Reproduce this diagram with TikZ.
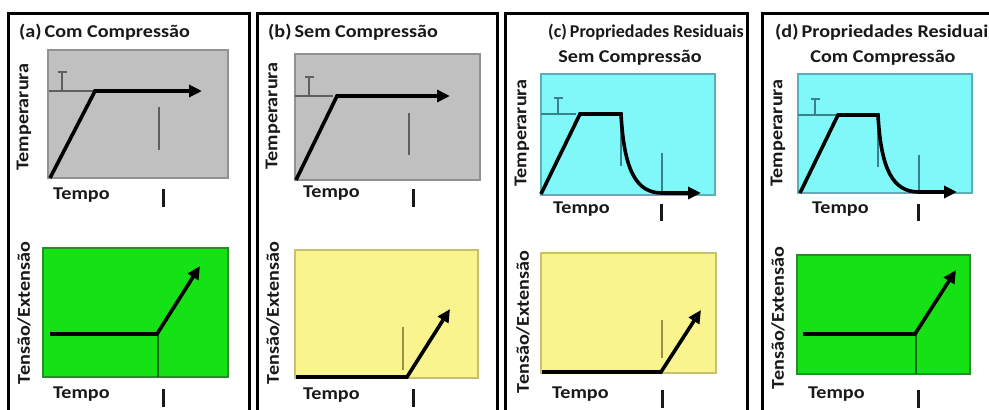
\documentclass[tikz,border=0pt]{standalone}
\usepackage{fontspec}
\newfontfamily\fs[FakeStretch=1.12]{Carlito}
\newfontfamily\fp{Carlito}
\usetikzlibrary{arrows.meta}
\definecolor{boxgray}{RGB}{192,192,192}
\definecolor{edgegray}{RGB}{145,145,145}
\definecolor{thingray}{RGB}{95,95,95}
\definecolor{boxgreen}{RGB}{20,226,20}
\definecolor{edgegreen}{RGB}{40,140,40}
\definecolor{thingreen}{RGB}{20,100,20}
\definecolor{boxyellow}{RGB}{250,244,142}
\definecolor{edgeyellow}{RGB}{200,192,110}
\definecolor{thinyellow}{RGB}{150,145,70}
\definecolor{boxcyan}{RGB}{128,248,250}
\definecolor{edgecyan}{RGB}{90,176,184}
\definecolor{thincyan}{RGB}{55,130,140}
\definecolor{ink}{RGB}{25,25,25}
\tikzset{
  frame/.style={draw=black, line width=3pt},
  plotbox/.style={line width=1.2pt},
  curve/.style={draw=black, line width=3.6pt, line join=miter, -{Triangle[length=13pt,width=12pt]}},
  thin/.style={line width=1.3pt},
  tbar/.style={line width=1.8pt},
  tick/.style={draw=ink, line width=3pt},
  lab/.style={inner sep=0pt, text=ink, font=\fs\bfseries\fontsize{18}{20}\selectfont},
  labp/.style={inner sep=0pt, text=ink, font=\fp\bfseries\fontsize{18}{20}\selectfont},
}
\begin{document}
\begin{tikzpicture}[x=1pt,y=-1pt]
\useasboundingbox (0,0) rectangle (989,410);
\fill[white] (0,0) rectangle (989,410);
% frames
\draw[frame] (8,13) rectangle (249,425);
\draw[frame] (257,13) rectangle (497,425);
\draw[frame] (505,13) rectangle (747,425);
\draw[frame] (762,13) rectangle (1005,425);

% ---------- (a) ----------
\node[lab, anchor=west] (ta) at (19,32) {(a)\,Com Compressão};
\filldraw[plotbox, fill=boxgray, draw=edgegray] (48,50) rectangle (228,178);
\draw[tbar, thingray] (58,72) -- (67,72) (62,72) -- (62,91);
\draw[thin, thingray] (49,91) -- (95,91);
\draw[thin, thingray] (159,107) -- (159,150);
\draw[curve] (50,178) -- (95,91) -- (202,91);
\node[lab, rotate=90] (ya1) at (24,117) {Temperarura};
\node[lab, anchor=west] (xa1) at (53,195) {Tempo};
\draw[tick] (163,189) -- (163,207);

\filldraw[plotbox, fill=boxgreen, draw=edgegreen] (43,248) rectangle (228,377);
\draw[thin, thingreen] (158,334) -- (158,377);
\draw[curve] (50,334) -- (157,334) -- (200,266);
\node[lab, rotate=90] (ya2) at (24,313) {Tensão/Extensão};
\node[lab, anchor=west] (xa2) at (53,394) {Tempo};
\draw[tick] (163,389) -- (163,407);

% ---------- (b) ----------
\node[lab, anchor=west] (tb) at (268,32) {(b)\,Sem Compressão};
\filldraw[plotbox, fill=boxgray, draw=edgegray] (295,54) rectangle (480,180);
\draw[tbar, thingray] (305,77) -- (314,77) (309,77) -- (309,96);
\draw[thin, thingray] (295,96) -- (333,96);
\draw[thin, thingray] (409,113) -- (409,155);
\draw[curve] (296,180) -- (337,96) -- (450,96);
\node[lab, rotate=90] (yb1) at (273,116) {Temperarura};
\node[lab, anchor=west] (xb1) at (303,193) {Tempo};
\draw[tick] (413,189) -- (413,207);

\filldraw[plotbox, fill=boxyellow, draw=edgeyellow] (295,250) rectangle (478,378);
\draw[thin, thinyellow] (403,327) -- (403,370);
\draw[curve] (296,377) -- (407,377) -- (450,309);
\node[lab, rotate=90] (yb2) at (273,313) {Tensão/Extensão};
\node[lab, anchor=west] (xb2) at (303,395) {Tempo};
\draw[tick] (413,389) -- (413,407);

% ---------- (c) ----------
\node[labp, anchor=west] (tc1) at (548,32) {(c)\,Propriedades Residuais};
\node[lab] (tc2) at (630,58) {Sem Compressão};
\filldraw[plotbox, fill=boxcyan, draw=edgecyan] (541,74) rectangle (715,195);
\draw[tbar, thincyan] (554,98) -- (563,98) (558,98) -- (558,114);
\draw[thin, thincyan] (541,114) -- (576,114);
\draw[thin, thincyan] (621,118) -- (621,166);
\draw[thin, thincyan] (662,153) -- (662,193);
\draw[curve] (541,194) -- (580,114) -- (621,114) .. controls (624,170) and (636,193) .. (662,193) -- (701,193);
\node[lab, rotate=90] (yc1) at (522,133) {Temperarura};
\node[lab, anchor=west] (xc1) at (553,209) {Tempo};
\draw[tick] (661,204) -- (661,221);

\filldraw[plotbox, fill=boxyellow, draw=edgeyellow] (541,253) rectangle (716,373);
\draw[thin, thinyellow] (662,320) -- (662,358);
\draw[curve] (542,372) -- (661,372) -- (701,310);
\node[lab, rotate=90] (yc2) at (523,322) {Tensão/Extensão};
\node[lab, anchor=west] (xc2) at (552,394) {Tempo};
\draw[tick] (662,390) -- (662,408);

% ---------- (d) ----------
\node[lab, anchor=west] (td1) at (775,32) {(d)\,Propriedades Residuai};
\node[lab] (td2) at (883,58) {Com Compressão};
\filldraw[plotbox, fill=boxcyan, draw=edgecyan] (798,74) rectangle (972,193);
\draw[tbar, thincyan] (811,99) -- (820,99) (815,99) -- (815,115);
\draw[thin, thincyan] (798,115) -- (836,115);
\draw[thin, thincyan] (878,130) -- (878,167);
\draw[thin, thincyan] (919,155) -- (919,192);
\draw[curve] (800,193) -- (838,115) -- (878,115) .. controls (881,170) and (893,192) .. (919,192) -- (957,192);
\node[lab, rotate=90] (yd1) at (778,133) {Temperarura};
\node[lab, anchor=west] (xd1) at (812,209) {Tempo};
\draw[tick] (918,204) -- (918,221);

\filldraw[plotbox, fill=boxgreen, draw=edgegreen] (797,255) rectangle (970,374);
\draw[thin, thingreen] (916,334) -- (916,374);
\draw[curve] (803,334) -- (915,334) -- (956,270);
\node[lab, rotate=90] (yd2) at (778,318) {Tensão/Extensão};
\node[lab, anchor=west] (xd2) at (808,394) {Tempo};
\draw[tick] (918,390) -- (918,408);
\end{tikzpicture}
\end{document}
